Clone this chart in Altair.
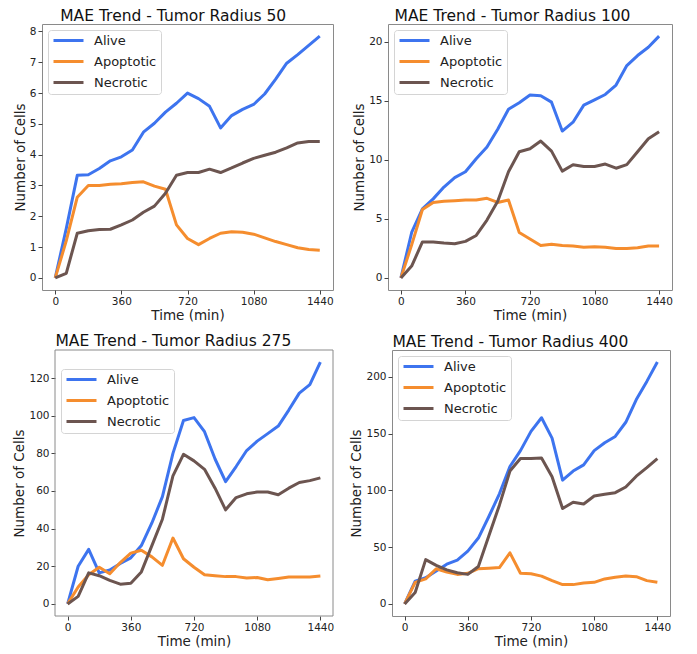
import altair as alt
import pandas as pd

TIME = [0, 60, 120, 180, 240, 300, 360, 420, 480, 540, 600, 660, 720,
        780, 840, 900, 960, 1020, 1080, 1140, 1200, 1260, 1320, 1380, 1440]
SERIES = ["Alive", "Apoptotic", "Necrotic"]
COLORS = ["#3d74ef", "#f58d2e", "#6c5550"]
X_TICKS = [0, 360, 720, 1080, 1440]

# Tumor radius 50
R50_ALIVE = [0, 1.6, 3.33, 3.35, 3.55, 3.8, 3.93, 4.15, 4.73, 5.02, 5.38, 5.67, 6.0,
             5.82, 5.57, 4.87, 5.27, 5.47, 5.63, 5.97, 6.45, 6.97, 7.25, 7.55, 7.85]
R50_APOP = [0, 1.2, 2.62, 3.0, 3.0, 3.04, 3.06, 3.1, 3.12, 2.98, 2.88, 1.72, 1.28,
            1.08, 1.28, 1.45, 1.5, 1.48, 1.42, 1.3, 1.18, 1.08, 0.98, 0.92, 0.9]
R50_NECRO = [0, 0.15, 1.45, 1.53, 1.57, 1.58, 1.72, 1.88, 2.13, 2.33, 2.75, 3.33, 3.42,
             3.42, 3.53, 3.42, 3.57, 3.73, 3.88, 3.98, 4.08, 4.22, 4.38, 4.43, 4.43]

# Tumor radius 100
R100_ALIVE = [0, 3.85, 5.85, 6.7, 7.7, 8.5, 9.0, 10.1, 11.1, 12.6, 14.3, 14.85, 15.5,
              15.45, 14.9, 12.45, 13.2, 14.65, 15.1, 15.55, 16.35, 18.0, 18.85, 19.55, 20.5]
R100_APOP = [0, 2.8, 5.8, 6.4, 6.5, 6.55, 6.6, 6.6, 6.75, 6.4, 6.6, 3.85, 3.3,
             2.75, 2.85, 2.75, 2.7, 2.6, 2.65, 2.6, 2.5, 2.5, 2.55, 2.7, 2.7]
R100_NECRO = [0, 1.0, 3.05, 3.05, 2.95, 2.9, 3.1, 3.6, 4.9, 6.5, 9.0, 10.7, 10.95,
              11.6, 10.75, 9.05, 9.6, 9.45, 9.45, 9.65, 9.3, 9.6, 10.7, 11.8, 12.4]

# Tumor radius 275
R275_ALIVE = [0, 20, 29, 16.5, 18, 21.5, 24.5, 31, 43, 57, 80, 97.5, 99,
              91.5, 77, 65, 73, 81.5, 86.5, 90.5, 94.5, 103, 112, 116.5, 128.5]
R275_APOP = [0, 9, 15.5, 19.5, 16, 22, 27, 28.5, 25, 20.5, 35, 24, 19.5,
             15.5, 15, 14.5, 14.5, 13.8, 14.0, 12.8, 13.5, 14.3, 14.3, 14.3, 14.8]
R275_NECRO = [0, 4, 16.5, 15, 12.5, 10.5, 11, 17, 31, 45, 68, 79.5, 76,
              71.5, 61.5, 50, 56.5, 58.5, 59.5, 59.5, 58, 61.5, 64.5, 65.5, 67]

# Tumor radius 400
R400_ALIVE = [0, 20, 23, 29, 35, 38.5, 46.5, 58, 77, 97, 121, 135, 152,
              164, 146, 109, 117, 122.5, 135, 142, 147.5, 160, 180, 196, 213]
R400_APOP = [0, 19, 22, 31, 28, 26, 27, 31, 31.5, 32, 45, 27, 26.5,
             24.5, 20.5, 17, 17, 18.5, 19, 22, 23.5, 24.5, 24, 20.5, 19]
R400_NECRO = [0, 10, 39, 34, 30, 27.5, 26, 33, 60, 87, 117, 128, 128,
              128.5, 112, 84, 89.5, 88, 95, 96.5, 98, 103, 112.5, 120, 128]

FONT = "DejaVu Sans"
PANEL_H = 266
FRAME = "#8a8a8a"


def panel(title, alive, apop, necro, width, yticks, inset=0):
    rows = []
    for name, vals in zip(SERIES, (alive, apop, necro)):
        for t, v in zip(TIME, vals):
            rows.append({"Time": t, "Cells": v, "Type": name})
    df = pd.DataFrame(rows)
    allv = alive + apop + necro
    lo, hi = min(allv), max(allv)
    pad = 0.05 * (hi - lo)
    xpad = 0.05 * (TIME[-1] - TIME[0])
    total_w = width + inset
    xaxis = dict(values=X_TICKS, format="d", title="Time (min)")
    yaxis = dict(values=yticks, format="d", title="Number of Cells")
    xscale = dict(domain=[TIME[0] - xpad, TIME[-1] + xpad], nice=False, zero=False)
    if inset:
        xscale["range"] = [inset, total_w]
        xaxis["titleX"] = inset + width / 2
        yaxis["offset"] = -inset
    lines = alt.Chart(df).mark_line(strokeWidth=3, strokeJoin="round").encode(
        x=alt.X("Time:Q", scale=alt.Scale(**xscale), axis=alt.Axis(**xaxis)),
        y=alt.Y("Cells:Q",
                scale=alt.Scale(domain=[lo - pad, hi + pad], nice=False, zero=False),
                axis=alt.Axis(**yaxis)),
        color=alt.Color("Type:N",
                        scale=alt.Scale(domain=SERIES, range=COLORS),
                        legend=alt.Legend(title=None, orient="top-left",
                                          offset=6 + inset if inset else 6)),
    )
    ttl = alt.TitleParams(title, frame="bounds", anchor="middle", fontSize=15.5,
                          font=FONT, fontWeight="normal", color="#111", offset=0)
    if not inset:
        return lines.properties(width=total_w, height=PANEL_H, title=ttl,
                                view=alt.ViewBackground(stroke=FRAME, strokeWidth=1))
    frame = alt.Chart(pd.DataFrame({"frame": [0]})).mark_rect(
        filled=False, stroke=FRAME, strokeWidth=1
    ).encode(x=alt.value(inset), x2=alt.value(total_w),
             y=alt.value(0), y2=alt.value(PANEL_H))
    return alt.layer(frame, lines).properties(
        width=total_w, height=PANEL_H, title=ttl,
        view=alt.ViewBackground(stroke="transparent"))


p1 = panel("MAE Trend - Tumor Radius 50", R50_ALIVE, R50_APOP, R50_NECRO, 291,
           [0, 1, 2, 3, 4, 5, 6, 7, 8])
p2 = panel("MAE Trend - Tumor Radius 100", R100_ALIVE, R100_APOP, R100_NECRO, 284,
           [0, 5, 10, 15, 20])
p3 = panel("MAE Trend - Tumor Radius 275", R275_ALIVE, R275_APOP, R275_NECRO, 278,
           [0, 20, 40, 60, 80, 100, 120], inset=13)
p4 = panel("MAE Trend - Tumor Radius 400", R400_ALIVE, R400_APOP, R400_NECRO, 278,
           [0, 50, 100, 150, 200])

row1 = alt.hconcat(p1, p2, spacing=18).resolve_legend(color="independent").resolve_scale(
    y="independent", x="independent", color="independent")
row2 = alt.hconcat(p3, p4, spacing=14).resolve_legend(color="independent").resolve_scale(
    y="independent", x="independent", color="independent")

chart = alt.vconcat(row1, row2, spacing=10).resolve_legend(
    color="independent").resolve_scale(
    y="independent", x="independent", color="independent").properties(
    padding={"left": 4, "top": 0, "right": 2, "bottom": 0},
).configure_view(
    stroke=FRAME, strokeWidth=1
).configure_axis(
    grid=False, domain=False, labelFont=FONT, titleFont=FONT,
    labelFontSize=10.5, titleFontSize=13.5, titleFontWeight="normal",
    labelColor="#222", titleColor="#222", tickColor="#444", tickSize=4,
    labelPadding=2, titlePadding=2,
).configure_legend(
    symbolType="M-1,0H5", symbolSize=100, symbolStrokeWidth=3,
    labelFont=FONT, labelFontSize=13, labelColor="#222",
    padding=4, strokeColor="#d4d4d4", fillColor="white", cornerRadius=3,
    rowPadding=7, labelOffset=29,
)

chart.save("out.html", embed_options={"renderer": "svg", "actions": False})
